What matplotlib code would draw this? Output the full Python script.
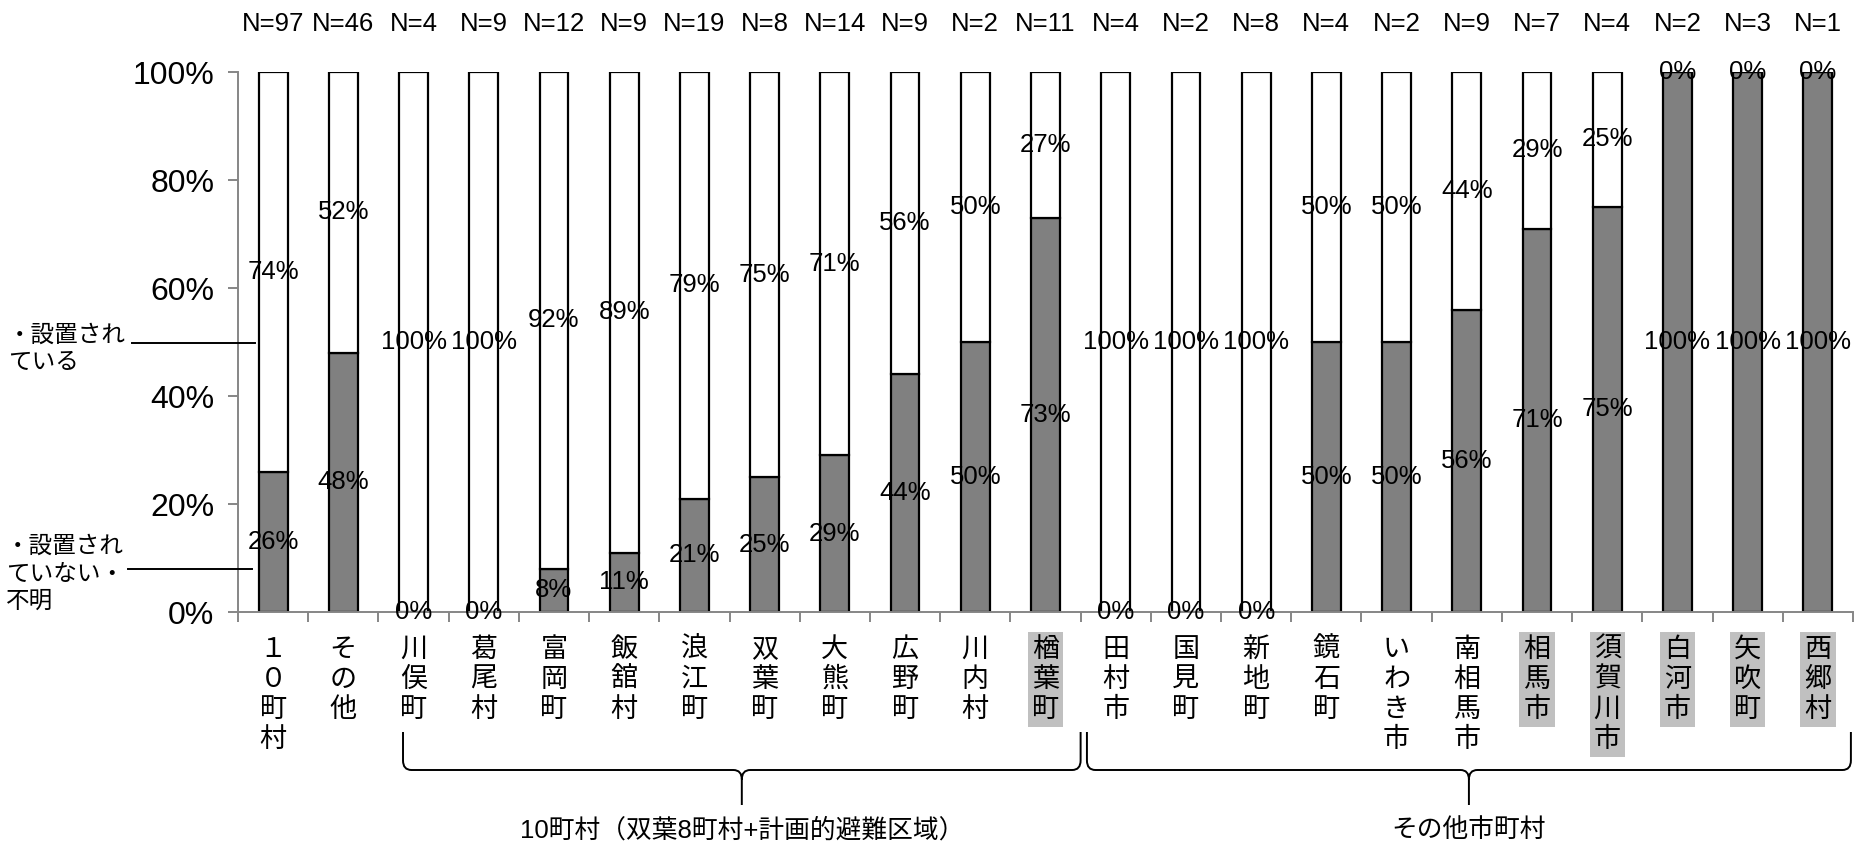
import matplotlib
matplotlib.use("Agg")
import matplotlib.pyplot as plt
from matplotlib.path import Path
from matplotlib.patches import PathPatch
from matplotlib.lines import Line2D
import numpy as np

# ---- data -------------------------------------------------------------
categories = ["１０町村", "その他", "川俣町", "葛尾村", "富岡町", "飯舘村", "浪江町",
              "双葉町", "大熊町", "広野町", "川内村", "楢葉町", "田村市", "国見町",
              "新地町", "鏡石町", "いわき市", "南相馬市", "相馬市", "須賀川市",
              "白河市", "矢吹町", "西郷村"]
sample_sizes = [97, 46, 4, 9, 12, 9, 19, 8, 14, 9, 2, 11, 4, 2, 8, 4, 2, 9, 7, 4, 2, 3, 1]
not_installed = [26, 48, 0, 0, 8, 11, 21, 25, 29, 44, 50, 73, 0, 0, 0, 50, 50, 56, 71, 75, 100, 100, 100]
installed = [74, 52, 100, 100, 92, 89, 79, 75, 71, 56, 50, 27, 100, 100, 100, 50, 50, 44, 29, 25, 0, 0, 0]
highlighted = ["楢葉町", "相馬市", "須賀川市", "白河市", "矢吹町", "西郷村"]
series_labels = ["・設置され\nている", "・設置され\nていない・\n不明"]
y_ticks = [0, 20, 40, 60, 80, 100]
groups = [("10町村（双葉8町村+計画的避難区域）", 2, 11),
          ("その他市町村", 12, 22)]

JP = ["Noto Sans CJK JP", "DejaVu Sans"]
LAT = ["Liberation Sans", "Noto Sans CJK JP", "DejaVu Sans"]

W, H = 1857, 843
fig = plt.figure(figsize=(W / 100, H / 100), dpi=100)
fig.patch.set_facecolor("white")

ax_left, ax_right, ax_top, ax_bottom = 238, 1853, 72, 612
ax = fig.add_axes([ax_left / W, 1 - ax_bottom / H,
                   (ax_right - ax_left) / W, (ax_bottom - ax_top) / H])

n = len(categories)
x = np.arange(n)
bar_w = 0.41
dark = np.array(not_installed)
light = np.array(installed)

ax.bar(x, dark, width=bar_w, color="#808080", edgecolor="black", linewidth=1.6, zorder=2)
ax.bar(x, light, bottom=dark, width=bar_w, color="white", edgecolor="black", linewidth=1.6, zorder=2)

# value labels centred in each segment
for i in range(n):
    ax.text(i, dark[i] / 2, f"{dark[i]}%", ha="center", va="center",
            fontsize=18.5, family=LAT, zorder=3, clip_on=False)
    ax.text(i, dark[i] + light[i] / 2, f"{light[i]}%", ha="center", va="center",
            fontsize=18.5, family=LAT, zorder=3, clip_on=False)

# sample sizes above the bars
xform = ax.get_xaxis_transform()
for i in range(n):
    ax.text(i, 1 + 48 / 540, f"N={sample_sizes[i]}", transform=xform,
            ha="center", va="center", fontsize=18.5, family=LAT)

ax.set_xlim(-0.5, n - 0.5)
ax.set_ylim(0, 100)

grey = "#868686"
for s in ("top", "right"):
    ax.spines[s].set_visible(False)
for s in ("left", "bottom"):
    ax.spines[s].set_color(grey)
    ax.spines[s].set_linewidth(1.4)

ax.set_yticks(y_ticks)
ax.set_yticklabels([f"{v}%" for v in y_ticks], family=LAT, fontsize=23)
ax.tick_params(axis="y", length=7, width=1.4, color=grey, pad=10)

ax.set_xticks(x)
ax.set_xticklabels(["\n".join(c) for c in categories], family=JP, fontsize=19.5,
                   linespacing=1.15, va="top")
ax.tick_params(axis="x", which="major", length=0, pad=17)
ax.set_xticks(np.arange(-0.5, n), minor=True)
ax.tick_params(axis="x", which="minor", length=7, width=1.4, color=grey)

for lbl, cat in zip(ax.get_xticklabels(), categories):
    if cat in highlighted:
        lbl.set_bbox(dict(facecolor="#c0c0c0", edgecolor="none", pad=3))

# series captions with leader lines to the first bar
def fy(py):
    return 1 - py / H

fig.text(8 / W, fy(349), series_labels[0], ha="left", va="center",
         fontsize=17, family=JP, linespacing=1.25)
fig.add_artist(Line2D([132 / W, 255 / W], [fy(343), fy(343)], color="black", lw=1.4))
fig.text(6 / W, fy(574), series_labels[1], ha="left", va="center",
         fontsize=17, family=JP, linespacing=1.25)
fig.add_artist(Line2D([128 / W, 252 / W], [fy(569), fy(569)], color="black", lw=1.4))

# group braces under the category labels
def ay(py):
    return (ax_bottom - py) / (ax_bottom - ax_top)

y_end, y_bar, y_tip = ay(732), ay(770), ay(805)
for text, i0, i1 in groups:
    xl = i0 - 0.15 if i0 == 2 else i0 - 0.41
    xr = i1 + 0.5 if i1 < n - 1 else i1 + 0.47
    xm = (xl + xr) / 2
    dx = 0.12
    dy = (y_end - y_bar) * 0.25
    verts = [(xl, y_end), (xl, y_bar + dy), (xl, y_bar), (xl + dx, y_bar),
             (xm - dx, y_bar), (xm, y_bar), (xm, y_bar - dy), (xm, y_tip),
             (xm, y_bar - dy), (xm, y_bar), (xm + dx, y_bar),
             (xr - dx, y_bar), (xr, y_bar), (xr, y_bar + dy), (xr, y_end)]
    codes = [Path.MOVETO, Path.LINETO, Path.CURVE3, Path.CURVE3,
             Path.LINETO, Path.CURVE3, Path.CURVE3, Path.LINETO,
             Path.MOVETO, Path.CURVE3, Path.CURVE3,
             Path.LINETO, Path.CURVE3, Path.CURVE3, Path.LINETO]
    ax.add_patch(PathPatch(Path(verts, codes), transform=xform, fill=False,
                           edgecolor="black", lw=1.4, clip_on=False))
    ax.text(xm, ay(830), text, transform=xform, ha="center", va="center",
            fontsize=18.5, family=LAT)

fig.savefig("out.png", dpi=100, facecolor="white")
